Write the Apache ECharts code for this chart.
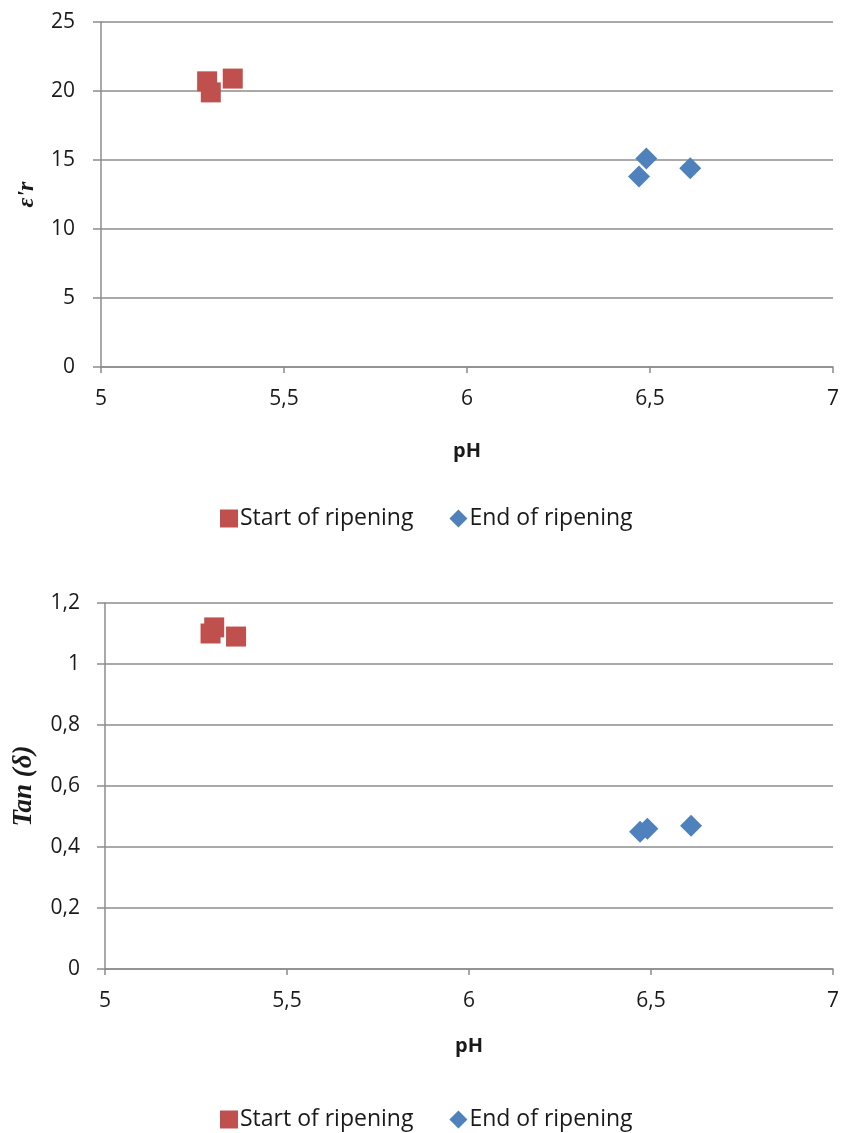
<!DOCTYPE html>
<html><head><meta charset="utf-8">
<script src="https://cdn.jsdelivr.net/npm/echarts@6/dist/echarts.min.js"></script>
<style>html,body{margin:0;padding:0;background:#fff}#c{width:842px;height:1133px}</style>
</head><body><div id="c"></div>
<script>
const startPH = [5.29, 5.30, 5.36];
const endPH = [6.47, 6.49, 6.61];
const startEps = [20.7, 19.9, 20.9];
const endEps = [13.8, 15.1, 14.4];
const startTan = [1.10, 1.12, 1.09];
const endTan = [0.45, 0.46, 0.47];
const seriesNames = ['Start of ripening', 'End of ripening'];
const red = '#C0504D', blue = '#4F81BD';
const pairs = (xs, ys) => xs.map((x, i) => [x, ys[i]]);
const comma = v => String(Math.round(v * 10) / 10).replace('.', ',');
const lbl = {color: '#1a1a1a', fontSize: 21, fontFamily: 'Open Sans'};
const axisLine = {show: true, lineStyle: {color: '#8c8c8c', width: 1.5}};
function xAxis(gi) {
  return {type: 'value', gridIndex: gi, min: 5, max: 7, interval: 0.5,
    name: 'pH', nameLocation: 'middle', nameGap: gi ? 67 : 74,
    nameTextStyle: {fontWeight: 'bold', fontSize: 20, color: '#1a1a1a', fontFamily: 'Open Sans'},
    axisLine: axisLine, axisTick: {show: true, length: 6, lineStyle: {color: '#8c8c8c', width: 1.5}},
    splitLine: {show: false}, axisLabel: Object.assign({margin: 22, formatter: comma}, lbl)};
}
function yAxis(gi, max, interval, name, gap, fs, margin) {
  return {type: 'value', gridIndex: gi, min: 0, max: max, interval: interval,
    name: name, nameLocation: 'middle', nameGap: gap, nameRotate: 90,
    nameTextStyle: {fontWeight: 'bold', fontStyle: 'italic', fontSize: fs, color: '#1a1a1a', fontFamily: 'Liberation Serif'},
    axisLine: axisLine, axisTick: {show: true, length: 8, lineStyle: {color: '#8c8c8c', width: 1.5}},
    splitLine: {show: true, lineStyle: {color: '#8c8c8c', width: 1.5}},
    axisLabel: Object.assign({margin: margin, formatter: comma}, lbl)};
}
const legendText = {fontSize: 23, color: '#1a1a1a', fontFamily: 'Open Sans', padding: [0,0,0,-3]};
const legendData = [{name: seriesNames[0], icon: 'rect'}, {name: seriesNames[1], icon: 'diamond'}];
const chart = echarts.init(document.getElementById('c'), null, {renderer: 'canvas'});
chart.setOption({
  animation: false,
  backgroundColor: '#fff',
  grid: [
    {left: 101, top: 22, right: 9, height: 345},
    {left: 105, top: 603, right: 6, height: 366}
  ],
  xAxis: [xAxis(0), xAxis(1)],
  yAxis: [yAxis(0, 25, 5, "ε'r", 62, 24, 26), yAxis(1, 1.2, 0.2, 'Tan (δ)', 67, 27, 25)],
  legend: [
    {top: 502, left: 215, itemWidth: 18, itemHeight: 18, itemGap: 36, textStyle: legendText, data: legendData},
    {top: 1103, left: 215, itemWidth: 18, itemHeight: 18, itemGap: 36, textStyle: legendText, data: legendData}
  ],
  series: [
    {name: seriesNames[0], type: 'scatter', xAxisIndex: 0, yAxisIndex: 0, symbol: 'rect', symbolSize: 20,
     itemStyle: {color: red, opacity: 1}, data: pairs(startPH, startEps)},
    {name: seriesNames[1], type: 'scatter', xAxisIndex: 0, yAxisIndex: 0, symbol: 'diamond', symbolSize: 22,
     itemStyle: {color: blue, opacity: 1}, data: pairs(endPH, endEps)},
    {name: seriesNames[0], type: 'scatter', xAxisIndex: 1, yAxisIndex: 1, symbol: 'rect', symbolSize: 20,
     itemStyle: {color: red, opacity: 1}, data: pairs(startPH, startTan)},
    {name: seriesNames[1], type: 'scatter', xAxisIndex: 1, yAxisIndex: 1, symbol: 'diamond', symbolSize: 22,
     itemStyle: {color: blue, opacity: 1}, data: pairs(endPH, endTan)}
  ]
});
</script></body></html>
